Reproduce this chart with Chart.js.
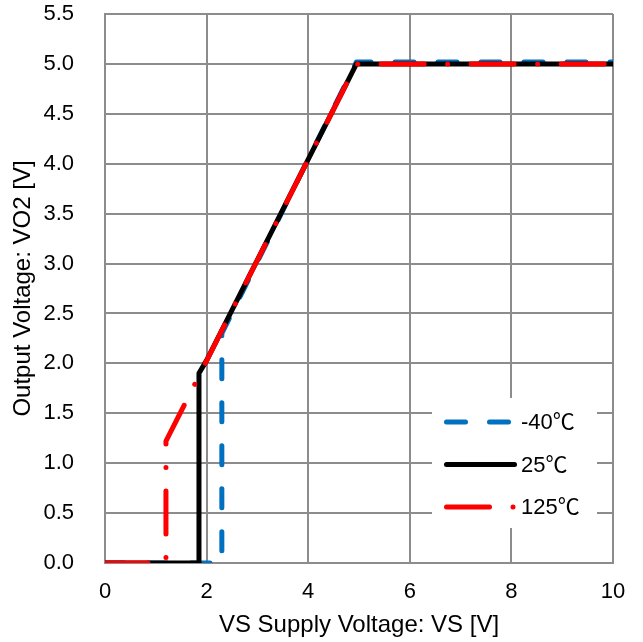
<!DOCTYPE html>
<html>
<head>
<meta charset="utf-8">
<script src="https://cdn.jsdelivr.net/npm/chart.js@4"></script>
<style>
    body { margin: 0; background: #fff; }
</style>
</head>
<body>
<canvas id="voChart" width="643" height="642"></canvas>
<script>
// valores
const vsM40 = [0, 2.3, 2.3, 4.95, 10];
const voM40 = [0, 0, 2.3, 5.02, 5.02];
const vs25 = [0, 1.85, 1.85, 2.0, 4.95, 10];
const vo25 = [0, 0, 1.9, 2.03, 5.0, 5.0];
const vs125 = [0, 1.2, 1.2, 4.95, 10];
const vo125 = [0, 0, 1.22, 5.0, 5.0];
const labels = ['-40℃', '25℃', '125℃'];
const xTicks = [0, 2, 4, 6, 8, 10];
const yTicks = [0, 0.5, 1, 1.5, 2, 2.5, 3, 3.5, 4, 4.5, 5, 5.5];

const fontFamily = "'Liberation Sans', Arial, 'Noto Sans CJK JP', sans-serif";

function toPoints(xs, ys) {
    return xs.map((x, i) => ({ x: x, y: ys[i] }));
}

// leyenda dentro del area del grafico, abajo a la derecha
const insideLegend = {
    id: 'insideLegend',
    afterDatasetsDraw(chart) {
        const ctx = chart.ctx;
        ctx.save();
        ctx.fillStyle = '#fff';
        ctx.fillRect(432, 398, 165, 130);
        const rows = [422, 464.5, 507];
        chart.data.datasets.forEach((ds, i) => {
            const y = rows[i];
            ctx.strokeStyle = ds.borderColor;
            ctx.lineWidth = ds.borderWidth;
            ctx.lineCap = ds.borderCapStyle || 'butt';
            ctx.setLineDash(ds.borderDash || []);
            ctx.lineDashOffset = 0;
            ctx.beginPath();
            ctx.moveTo(446.5, y);
            ctx.lineTo(514.5, y);
            ctx.stroke();
            ctx.setLineDash([]);
            ctx.fillStyle = '#000';
            ctx.font = '22px ' + fontFamily;
            ctx.textBaseline = 'middle';
            ctx.textAlign = 'left';
            ctx.fillText(ds.label, 521, y + 1);
        });
        ctx.restore();
    }
};

document.addEventListener('DOMContentLoaded', () => {
    const ctx = document.getElementById('voChart').getContext('2d');

    new Chart(ctx, {
        type: 'scatter',
        data: {
            datasets: [{
                label: labels[0],
                data: toPoints(vsM40, voM40),
                borderColor: '#0070c0',
                borderWidth: 5,
                borderDash: [19, 24],
                borderCapStyle: 'round',
                borderJoinStyle: 'round',
                showLine: true,
                pointRadius: 0,
                order: 3
            }, {
                label: labels[1],
                data: toPoints(vs25, vo25),
                borderColor: '#000000',
                borderWidth: 5,
                borderCapStyle: 'round',
                borderJoinStyle: 'round',
                showLine: true,
                pointRadius: 0,
                order: 2
            }, {
                label: labels[2],
                data: toPoints(vs125, vo125),
                borderColor: '#ff0000',
                borderWidth: 5,
                borderDash: [43, 23.5, 0.01, 23.5],
                borderCapStyle: 'round',
                borderJoinStyle: 'round',
                showLine: true,
                pointRadius: 0,
                order: 1
            }]
        },
        options: {
            responsive: false,
            animation: false,
            layout: {
                padding: { top: 14, right: 30, left: 0, bottom: 0 }
            },
            plugins: {
                legend: { display: false },
                tooltip: { enabled: false }
            },
            scales: {
                x: {
                    type: 'linear',
                    min: 0,
                    max: 10,
                    afterFit: (scale) => { scale.height = 79; },
                    afterBuildTicks: (scale) => { scale.ticks = xTicks.map(v => ({ value: v })); },
                    grid: { color: '#8c8c8c', lineWidth: 2, drawTicks: false },
                    border: { color: '#8c8c8c', width: 2 },
                    ticks: {
                        color: '#000',
                        padding: 16,
                        maxRotation: 0,
                        font: { family: fontFamily, size: 22 }
                    },
                    title: {
                        display: true,
                        text: 'VS Supply Voltage: VS [V]',
                        color: '#000',
                        padding: { top: 0, bottom: 2 },
                        font: { family: fontFamily, size: 24 }
                    }
                },
                y: {
                    type: 'linear',
                    min: 0,
                    max: 5.5,
                    afterFit: (scale) => {
                        scale.width = 105;
                        scale.paddingTop = 0;
                        scale.paddingBottom = 0;
                    },
                    afterBuildTicks: (scale) => { scale.ticks = yTicks.map(v => ({ value: v })); },
                    grid: { color: '#8c8c8c', lineWidth: 2, drawTicks: false },
                    border: { color: '#8c8c8c', width: 2 },
                    ticks: {
                        color: '#000',
                        padding: 31,
                        callback: (v) => v.toFixed(1),
                        font: { family: fontFamily, size: 22 }
                    },
                    title: {
                        display: true,
                        text: 'Output Voltage: VO2 [V]',
                        color: '#000',
                        padding: { top: 9, bottom: 0 },
                        font: { family: fontFamily, size: 24 }
                    }
                }
            }
        },
        plugins: [insideLegend]
    });
});
</script>
</body>
</html>
